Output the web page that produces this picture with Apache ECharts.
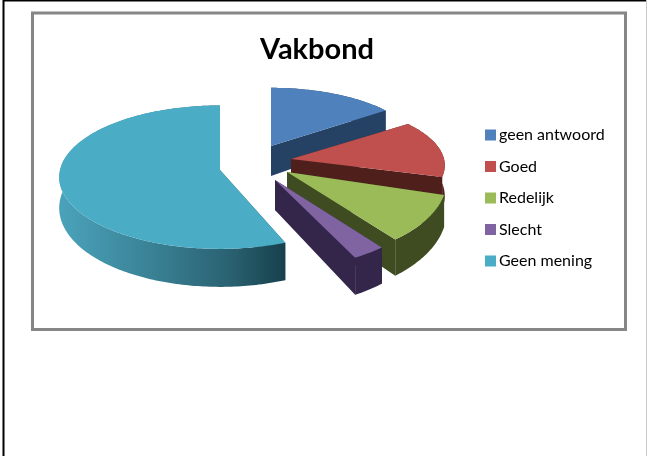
<!DOCTYPE html>
<html>
<head>
<meta charset="utf-8">
<style>html,body{margin:0;padding:0;background:#fff}#c{width:647px;height:456px}</style>
<script src="https://cdn.jsdelivr.net/npm/echarts@6/dist/echarts.min.js"></script>
</head>
<body>
<div id="c"></div>
<script>
var chartTitle = 'Vakbond';
var categories = ['geen antwoord', 'Goed', 'Redelijk', 'Slecht', 'Geen mening'];
var shares = [15, 14.5, 9.7, 3.1, 57.7];

// drawing layout for the exploded perspective pie (not data)
var topColors = ['#4F81BD', '#C0504D', '#9BBB59', '#8064A2', '#4BACC6'];
var wallColors = ['#254265', '#4F1F1C', '#3F4C22', '#33264A', '#1F4E5C'];
var apexX = [271, 291, 287, 275, 220];
var apexY = [146, 159, 172, 180, 170];
var radiusX = [150, 153, 159, 157, 160];
var radiusY = [64, 63, 80, 80, 71];
var startTrim = [0, 0, 0, 0, 6];
var drawOrder = [4, 0, 1, 2, 3];
var persp = 0.1, depthBase = 30, depthSwing = 8;

var total = shares.reduce(function (a, b) { return a + b; }, 0);
function sliceAngles(i) {
  var s = 0;
  for (var k = 0; k < i; k++) s += shares[k];
  return [s / total * 360 + startTrim[i], (s + shares[i]) / total * 360];
}
function project(i, deg, depth) {
  var t = deg * Math.PI / 180, w = 1 + persp * Math.cos(t);
  var x = apexX[i] + radiusX[i] * Math.sin(t) / w;
  var y = apexY[i] - radiusY[i] * Math.cos(t) / w;
  return [x, y + (depth ? depthBase - depthSwing * Math.cos(t) : 0)];
}
function renderSlice(i) {
  var a = sliceAngles(i), top = [], low = [], step = 1;
  for (var d = a[0]; d < a[1]; d += step) { top.push(project(i, d)); low.push(project(i, d, true)); }
  top.push(project(i, a[1])); low.push(project(i, a[1], true));
  var apex = [apexX[i], apexY[i]], apexLow = [apexX[i], apexY[i] + depthBase];
  var wallFill = wallColors[i];
  var sideFill = i === 4 ? new echarts.graphic.LinearGradient(0, 0, 1, 0, [
    { offset: 0, color: '#4AA3BB' }, { offset: 0.4, color: '#3A8296' },
    { offset: 0.75, color: '#2A6272' }, { offset: 1, color: '#17404C' }
  ]) : wallFill;
  var poly = function (pts, fill) { return { type: 'polygon', shape: { points: pts }, style: { fill: fill, stroke: null } }; };
  return { type: 'group', children: [
    poly([apex, top[0], low[0], apexLow], wallFill),
    poly([apex, top[top.length - 1], low[low.length - 1], apexLow], wallFill),
    poly(top.concat(low.slice().reverse()), sideFill),
    poly([apex].concat(top), topColors[i])
  ] };
}
var series = drawOrder.map(function (i) {
  return {
    type: 'custom', name: categories[i], coordinateSystem: 'none', silent: true, animation: false,
    itemStyle: { color: topColors[i] }, z: 2,
    data: [shares[i]],
    renderItem: function () { return renderSlice(i); }
  };
});

var chart = echarts.init(document.getElementById('c'), null, { renderer: 'canvas' });
chart.setOption({
  animation: false,
  backgroundColor: '#fff',
  title: { text: chartTitle, left: 312, top: 30, textAlign: 'center',
    textStyle: { fontFamily: 'Lato', fontSize: 29, fontWeight: 'bold', color: '#000' } },
  legend: { data: categories, orient: 'vertical', left: 485, top: 126, icon: 'rect',
    itemWidth: 11, itemHeight: 11, itemGap: 13.5, padding: 0, selectedMode: false,
    textStyle: { fontFamily: 'Lato', fontSize: 16, color: '#000', padding: [0, 0, 0, -2], lineHeight: 18 } },
  graphic: [
    { type: 'rect', silent: true, z: 0, shape: { x: 32.5, y: 13, width: 593, height: 316.5 },
      style: { fill: '#fff', stroke: '#868686', lineWidth: 3 } },
    { type: 'polyline', silent: true, z: 0, shape: { points: [[3.5, 456], [3.5, 0.5], [647, 0.5]] },
      style: { fill: null, stroke: '#000', lineWidth: 2 } },
    { type: 'line', silent: true, z: 0, shape: { x1: 646.5, y1: 0, x2: 646.5, y2: 456 },
      style: { stroke: '#cccccc', lineWidth: 1 } }
  ],
  series: series
});
</script>
</body>
</html>
